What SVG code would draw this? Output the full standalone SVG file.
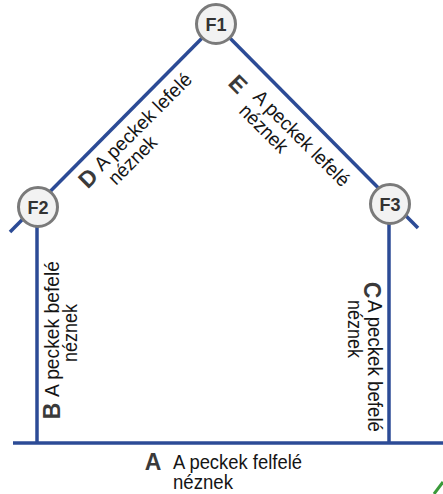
<svg xmlns="http://www.w3.org/2000/svg" width="443" height="494" viewBox="0 0 443 494">
<defs>
<style>
.ln{stroke:#2c4b96;stroke-width:3.5;fill:none;stroke-linecap:butt}
.t{font-family:"Liberation Sans",Arial,sans-serif;font-size:19.5px;fill:#151515}
.big{font-family:"Liberation Sans",Arial,sans-serif;font-weight:bold;font-size:23px;fill:#3a3a3a;text-anchor:middle}
.nc{fill:#f2f2f2;stroke:#7a7a7a;stroke-width:3}
.nt{font-family:"Liberation Sans",Arial,sans-serif;font-weight:bold;font-size:18px;fill:#333;text-anchor:middle}
</style>
</defs>
<rect width="443" height="494" fill="#ffffff"/>
<g id="connectors">
<line class="ln" x1="10" y1="232" x2="216" y2="24"/>
<line class="ln" x1="216" y1="24" x2="418" y2="228"/>
<line class="ln" x1="37" y1="207" x2="37" y2="443"/>
<line class="ln" x1="389" y1="204" x2="389" y2="443"/>
<line class="ln" x1="13" y1="443" x2="443" y2="443"/>
<path d="M434,494 L443,482" stroke="#3a9a3a" stroke-width="3" fill="none"/>
</g>
<g id="F1"><circle class="nc" cx="216" cy="24" r="19.5"/><text class="nt" x="216" y="30.5">F1</text></g>
<g id="F2"><circle class="nc" cx="38" cy="207" r="19.5"/><text class="nt" x="38" y="213.5">F2</text></g>
<g id="F3"><circle class="nc" cx="390" cy="204" r="19.5"/><text class="nt" x="390" y="210.5">F3</text></g>
<g id="label-A">
<text class="big" x="153" y="470">A</text>
<text class="t" x="173" y="469" textLength="129" lengthAdjust="spacingAndGlyphs">A peckek felfelé</text>
<text class="t" x="173" y="489" textLength="60" lengthAdjust="spacingAndGlyphs">néznek</text>
</g>
<g id="label-B">
<text class="big" transform="translate(60,411) rotate(-90)" x="0" y="0">B</text>
<text class="t" transform="translate(59,397) rotate(-90)" textLength="136" lengthAdjust="spacingAndGlyphs">A peckek befelé</text>
<text class="t" transform="translate(77,362) rotate(-90)" textLength="58" lengthAdjust="spacingAndGlyphs">néznek</text>
</g>
<g id="label-C">
<text class="big" transform="translate(364,290) rotate(90)" x="0" y="0">C</text>
<text class="t" transform="translate(368,300) rotate(90)" textLength="132" lengthAdjust="spacingAndGlyphs">A peckek befelé</text>
<text class="t" transform="translate(348,300) rotate(90)" textLength="58" lengthAdjust="spacingAndGlyphs">néznek</text>
</g>
<g id="label-D">
<text class="big" transform="translate(88,178) rotate(-45)" x="0" y="8">D</text>
<text class="t" transform="translate(102,172) rotate(-45)" textLength="129" lengthAdjust="spacingAndGlyphs">A peckek lefelé</text>
<text class="t" transform="translate(116,186) rotate(-45)" textLength="60" lengthAdjust="spacingAndGlyphs">néznek</text>
</g>
<g id="label-E">
<text class="big" transform="translate(238,84) rotate(45)" x="0" y="8">E</text>
<text class="t" transform="translate(252,98) rotate(45)" textLength="127" lengthAdjust="spacingAndGlyphs">A peckek lefelé</text>
<text class="t" transform="translate(238,112) rotate(45)" textLength="60" lengthAdjust="spacingAndGlyphs">néznek</text>
</g>
</svg>
